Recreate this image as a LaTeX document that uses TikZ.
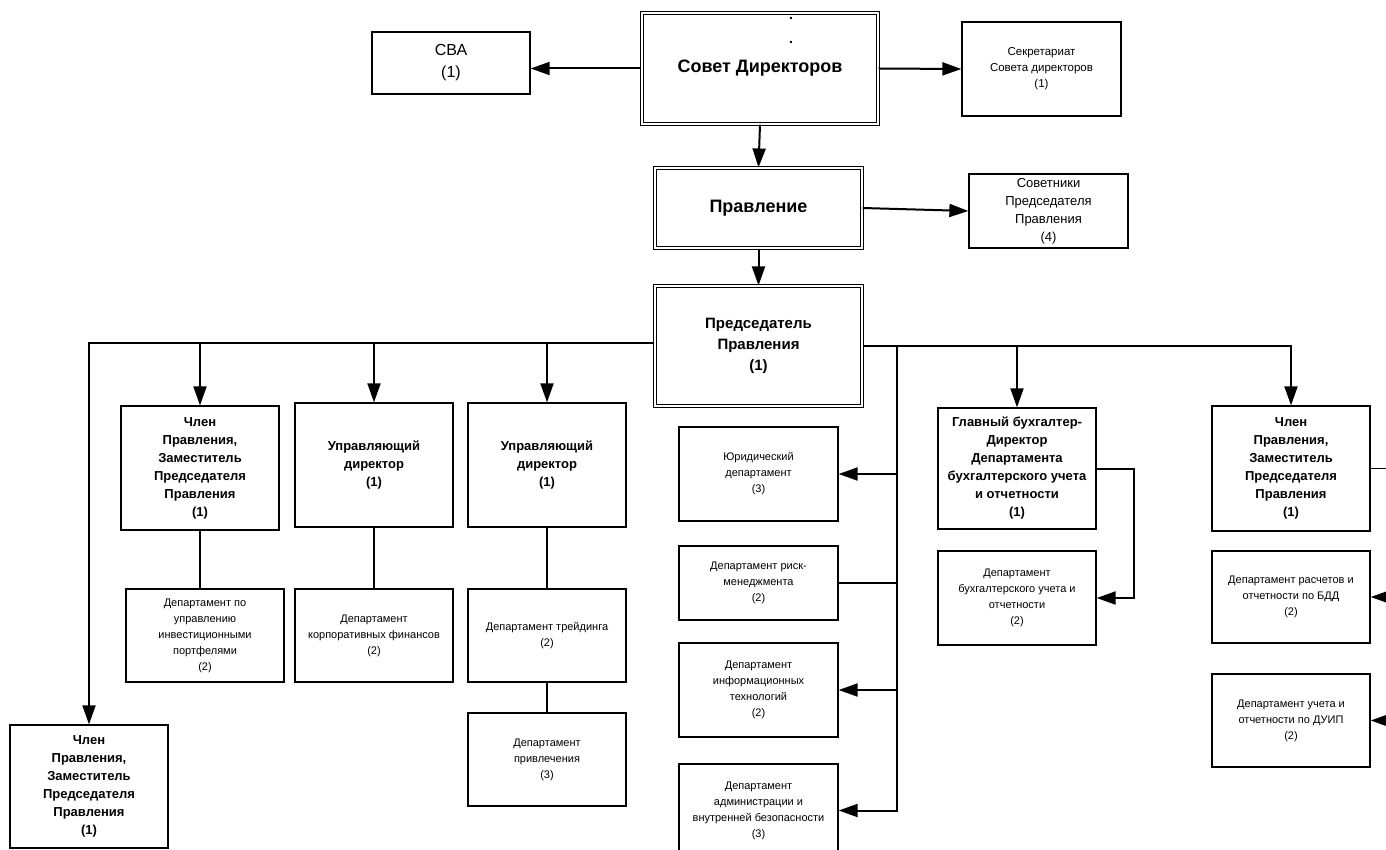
\documentclass[tikz,border=0pt]{standalone}
\usepackage{fontspec}
\setmainfont{Liberation Sans}
\usetikzlibrary{arrows.meta}
\newcommand\smallf{\fontsize{11}{16}\selectfont}
\newcommand\boldf{\fontsize{13}{18}\selectfont\bfseries}
\tikzset{
  box/.style={draw, line width=1.3pt, inner sep=0pt, align=center, minimum width=158pt},
  dbl/.style={draw, double, double distance=2pt, line width=1.1pt, inner sep=0pt, align=center},
  arr/.style={line width=2pt, -{Triangle[length=19pt,width=13pt]}},
  ln/.style={line width=1.3pt},
}
\begin{document}
\begin{tikzpicture}[x=1pt,y=-1pt]
\useasboundingbox (0,0) rectangle (1386,850);
% top level
\node[dbl, minimum width=236pt, minimum height=111pt, font=\fontsize{18}{22}\selectfont\bfseries] (sovet) at (760,68.5) {Совет Директоров};
\node[font=\fontsize{14}{16}\selectfont\bfseries, anchor=base] (dotA) at (791,20) {.};
\node[font=\fontsize{14}{16}\selectfont\bfseries, anchor=base] (dotB) at (791,44) {.};
\node[box, minimum height=62pt, font=\fontsize{16}{22}\selectfont] (cba) at (451,63) {СВА\\(1)};
\node[box, minimum width=159pt, minimum height=94pt, font=\fontsize{11.5}{16}\selectfont] (secr) at (1041.5,69) {Секретариат\\Совета директоров\\(1)};
\node[dbl, minimum width=207pt, minimum height=80pt, font=\fontsize{18}{22}\selectfont\bfseries] (pravl) at (758.5,208) {Правление};
\node[box, minimum width=159pt, minimum height=74pt, font=\fontsize{13}{18}\selectfont] (sovetn) at (1048.5,211) {Советники\\Председателя\\Правления\\(4)};
\node[dbl, minimum width=207pt, minimum height=120pt, font=\fontsize{15}{21}\selectfont\bfseries] (pred) at (758.5,346) {Председатель\\Правления\\(1)};
% second level
\node[box, minimum height=124pt, font=\boldf] (chlenL) at (200,468) {Член\\Правления,\\Заместитель\\Председателя\\Правления\\(1)};
\node[box, minimum height=93pt, font=\smallf] (deppo) at (205,635.5) {Департамент по\\управлению\\инвестиционными\\портфелями\\(2)};
\node[box, minimum height=124pt, font=\boldf] (upr1) at (374,465) {Управляющий\\директор\\(1)};
\node[box, minimum height=93pt, font=\smallf] (corp) at (374,635.5) {Департамент\\корпоративных финансов\\(2)};
\node[box, minimum height=124pt, font=\boldf] (upr2) at (547,465) {Управляющий\\директор\\(1)};
\node[box, minimum height=93pt, font=\smallf] (trade) at (547,635.5) {Департамент трейдинга\\(2)};
\node[box, minimum height=93pt, font=\smallf] (privl) at (547,759.5) {Департамент\\привлечения\\(3)};
\node[box, minimum width=159pt, minimum height=94pt, font=\smallf] (yur) at (758.5,474) {Юридический\\департамент\\(3)};
\node[box, minimum width=159pt, minimum height=74pt, font=\smallf] (risk) at (758.5,583) {Департамент риск-\\менеджмента\\(2)};
\node[box, minimum width=159pt, minimum height=94pt, font=\smallf] (it) at (758.5,690) {Департамент\\информационных\\технологий\\(2)};
\node[box, minimum width=159pt, minimum height=93pt, font=\smallf] (adm) at (758.5,810.5) {Департамент\\администрации и\\внутренней безопасности\\(3)};
\node[box, minimum height=121pt, font=\boldf] (glav) at (1017,468.5) {Главный бухгалтер-\\Директор\\Департамента\\бухгалтерского учета\\и отчетности\\(1)};
\node[box, minimum height=94pt, font=\smallf] (depbuh) at (1017,598) {Департамент\\бухгалтерского учета и\\отчетности\\(2)};
\node[box, minimum height=125pt, font=\boldf] (chlenR) at (1291,468.5) {Член\\Правления,\\Заместитель\\Председателя\\Правления\\(1)};
\node[box, minimum height=92pt, font=\smallf] (bdd) at (1291,597) {Департамент расчетов и\\отчетности по БДД\\(2)};
\node[box, minimum height=93pt, font=\smallf] (duip) at (1291,720.5) {Департамент учета и\\отчетности по ДУИП\\(2)};
\node[box, minimum height=123pt, font=\boldf] (chlenBL) at (89,786.5) {Член\\Правления,\\Заместитель\\Председателя\\Правления\\(1)};
% connectors top
\draw[arr] (sovet.west) -- (sovet.west -| cba.east);
\draw[arr] (sovet.east) -- (secr.west);
\draw[arr] (sovet.south) -- (pravl.north);
\draw[arr] (pravl.east) -- (sovetn.west);
\draw[arr] (pravl.south) -- (pred.north);
% left bus
\coordinate (busL) at ([yshift=3pt]pred.west);
\draw[arr] (busL) -| (chlenBL.north);
\draw[arr] (chlenL.north |- busL) -- (chlenL.north);
\draw[arr] (upr1.north |- busL) -- (upr1.north);
\draw[arr] (upr2.north |- busL) -- (upr2.north);
\draw[ln] (chlenL.south) -- (chlenL.south |- deppo.north);
\draw[ln] (upr1.south) -- (corp.north);
\draw[ln] (upr2.south) -- (trade.north);
\draw[ln] (trade.south) -- (privl.north);
% right bus
\draw[arr] (pred.east) -| (chlenR.north);
\draw[arr] (glav.north |- pred.east) -- (glav.north);
\coordinate (vbus) at (897,0 |- pred.east);
\draw[arr] (vbus) |- (adm.east);
\draw[arr] (yur.east -| vbus) -- (yur.east);
\draw[ln] (risk.east -| vbus) -- (risk.east);
\draw[arr] (it.east -| vbus) -- (it.east);
\draw[arr] (glav.east) -- ++(37,0) |- (depbuh.east);
\coordinate (rbus) at (1398,0 |- chlenR.east);
\draw[ln] (chlenR.east) -- (rbus);
\draw[arr] (rbus) |- (duip.east);
\draw[arr] (bdd.east -| rbus) -- (bdd.east);
\end{tikzpicture}
\end{document}
